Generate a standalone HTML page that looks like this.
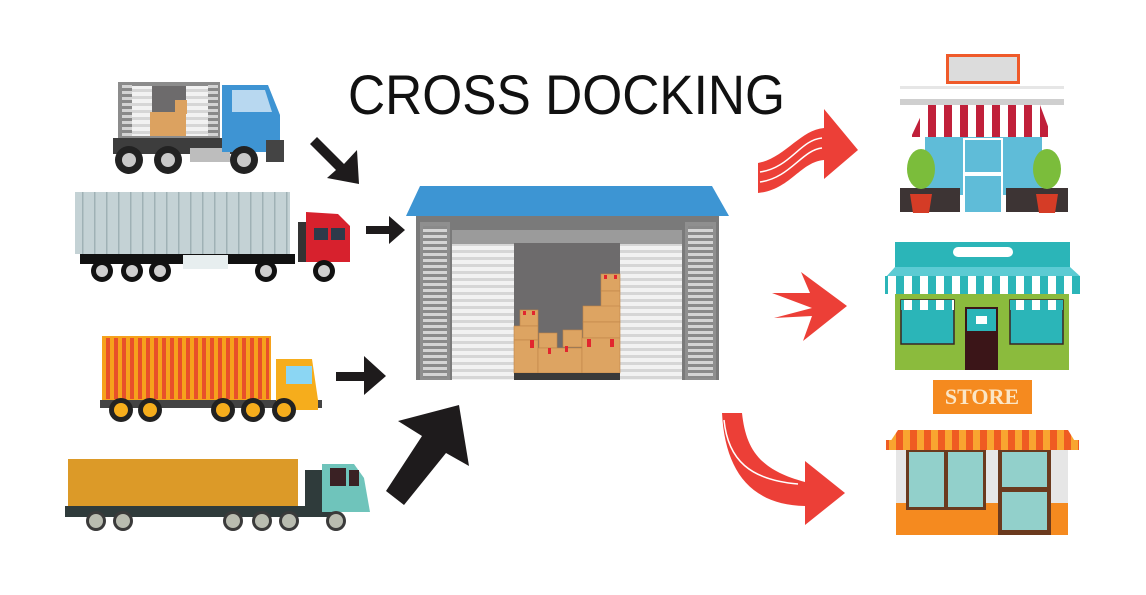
<!DOCTYPE html>
<html><head><meta charset="utf-8"><style>
html,body{margin:0;padding:0;background:#fff;}
svg{display:block;}
</style></head><body>
<svg width="1146" height="595" viewBox="0 0 1146 595" xmlns="http://www.w3.org/2000/svg">
<defs>
<pattern id="slat" width="10" height="6" patternUnits="userSpaceOnUse"><rect width="10" height="6" fill="#8a8a8a"/><rect y="1" width="10" height="3" fill="#d4d4d4"/></pattern>
<pattern id="wslat" width="10" height="7" patternUnits="userSpaceOnUse"><rect width="10" height="7" fill="#d6d6d6"/><rect y="1" width="10" height="4" fill="#f2f2f2"/></pattern>
<pattern id="cont" width="8" height="10" patternUnits="userSpaceOnUse"><rect width="8" height="10" fill="#f6a21c"/><rect x="2" width="4" height="10" fill="#e8502a"/></pattern>
<pattern id="trl" width="12" height="10" patternUnits="userSpaceOnUse"><rect width="12" height="10" fill="#c4d2d5"/><rect x="10" width="1.5" height="10" fill="#9fb1b5"/></pattern>
<pattern id="red" width="16" height="10" patternUnits="userSpaceOnUse"><rect width="16" height="10" fill="#fff"/><rect width="8" height="10" fill="#c0203a"/></pattern>
<pattern id="teal" width="16" height="10" patternUnits="userSpaceOnUse"><rect width="16" height="10" fill="#fff"/><rect width="8" height="10" fill="#2bb5b8"/></pattern>
<pattern id="orng" width="14" height="10" patternUnits="userSpaceOnUse"><rect width="14" height="10" fill="#f9a530"/><rect width="7" height="10" fill="#ef5c22"/></pattern>
</defs>

<!-- Title -->
<text x="348" y="114" font-family="Liberation Sans, sans-serif" font-size="56" fill="#111" textLength="437" lengthAdjust="spacingAndGlyphs" style="font-weight:300">CROSS DOCKING</text>

<!-- Truck 1 -->
<rect x="118" y="82" width="102" height="56" fill="#8c8c8c"/>
<rect x="122" y="84" width="10" height="52" fill="url(#slat)"/>
<rect x="208" y="84" width="10" height="52" fill="url(#slat)"/>
<rect x="132" y="86" width="20" height="50" fill="url(#wslat)"/>
<rect x="186" y="86" width="22" height="50" fill="url(#wslat)"/>
<rect x="152" y="86" width="34" height="50" fill="#6d6b6c"/>
<rect x="150" y="112" width="36" height="24" fill="#dca260"/>
<rect x="175" y="100" width="12" height="14" fill="#dca260"/>
<rect x="113" y="138" width="120" height="16" fill="#3d3d3d"/>
<rect x="190" y="148" width="40" height="14" fill="#bdbdbd"/>
<path d="M222 85 H268 L280 115 V152 H222 Z" fill="#3e94d3"/>
<path d="M232 90 H265 L272 112 H232 Z" fill="#b8d8f0"/>
<rect x="266" y="140" width="18" height="22" fill="#444"/>
<g fill="#222"><circle cx="129" cy="160" r="14"/><circle cx="168" cy="160" r="14"/><circle cx="244" cy="160" r="14"/></g>
<g fill="#c9c9c9"><circle cx="129" cy="160" r="7"/><circle cx="168" cy="160" r="7"/><circle cx="244" cy="160" r="7"/></g>

<!-- Arrow 1 -->
<path d="M317 137 L310 144 L336 170 L327 178 L359 184 L357 150 L344 164 Z" fill="#1e1b1c"/>

<!-- Truck 2 -->
<rect x="75" y="192" width="215" height="62" fill="url(#trl)"/>
<rect x="80" y="254" width="210" height="10" fill="#111"/>
<rect x="235" y="254" width="60" height="10" fill="#111"/>
<rect x="183" y="255" width="45" height="14" fill="#e7eeef"/>
<rect x="298" y="222" width="8" height="40" fill="#333"/>
<path d="M306 212 L338 214 L350 226 V262 H306 Z" fill="#d7212d"/>
<rect x="314" y="228" width="14" height="12" fill="#2d3a4a"/>
<rect x="331" y="228" width="14" height="12" fill="#2d3a4a"/>
<g fill="#111"><circle cx="102" cy="271" r="11"/><circle cx="132" cy="271" r="11"/><circle cx="160" cy="271" r="11"/><circle cx="266" cy="271" r="11"/><circle cx="324" cy="271" r="11"/></g>
<g fill="#cfcfcf"><circle cx="102" cy="271" r="6"/><circle cx="132" cy="271" r="6"/><circle cx="160" cy="271" r="6"/><circle cx="266" cy="271" r="6"/><circle cx="324" cy="271" r="6"/></g>

<!-- Arrow 2 -->
<path d="M366 226 H389 V216 L405 230 L389 244 V234 H366 Z" fill="#1e1b1c"/>

<!-- Warehouse -->
<polygon points="406,216 420,186 712,186 729,216" fill="#3d95d3"/>
<rect x="416" y="216" width="303" height="164" fill="#7a7a7a"/>
<rect x="420" y="222" width="30" height="158" fill="#8f8f8f"/>
<rect x="423" y="226" width="24" height="152" fill="url(#slat)"/>
<rect x="685" y="222" width="31" height="158" fill="#8f8f8f"/>
<rect x="688" y="226" width="25" height="152" fill="url(#slat)"/>
<rect x="452" y="230" width="230" height="14" fill="#9b9b9b"/>
<rect x="452" y="244" width="62" height="136" fill="url(#wslat)"/>
<rect x="620" y="244" width="62" height="136" fill="url(#wslat)"/>
<rect x="514" y="243" width="106" height="130" fill="#6d6b6c"/>
<g fill="#dda462" stroke="#c08547" stroke-width="0.6">
<rect x="601" y="274" width="19" height="17"/><rect x="601" y="291" width="19" height="16"/>
<rect x="583" y="306" width="37" height="16"/><rect x="583" y="322" width="37" height="16"/>
<rect x="520" y="310" width="18" height="16"/><rect x="514" y="326" width="24" height="14"/>
<rect x="539" y="333" width="18" height="15"/><rect x="563" y="330" width="19" height="17"/>
<rect x="514" y="340" width="24" height="33"/><rect x="538" y="348" width="44" height="25"/><rect x="582" y="338" width="38" height="35"/>
</g>
<g fill="#e2262e">
<rect x="530" y="340" width="4" height="8"/><rect x="548" y="348" width="3" height="6"/><rect x="565" y="346" width="3" height="6"/><rect x="587" y="339" width="4" height="8"/><rect x="610" y="339" width="4" height="8"/>
<rect x="604" y="275" width="3" height="4"/><rect x="614" y="275" width="3" height="4"/><rect x="523" y="311" width="3" height="4"/><rect x="532" y="311" width="3" height="4"/>
</g>
<rect x="514" y="373" width="106" height="7" fill="#3a3a3a"/>

<!-- Truck 3 -->
<rect x="103" y="337" width="167" height="63" fill="url(#cont)"/>
<rect x="103" y="337" width="167" height="63" fill="none" stroke="#f6a21c" stroke-width="2"/>
<rect x="100" y="400" width="222" height="8" fill="#444"/>
<path d="M276 359 H312 L318 400 V410 H276 Z" fill="#f6ad1c"/>
<rect x="286" y="366" width="26" height="18" fill="#8bd6f3"/>
<g fill="#222"><circle cx="121" cy="410" r="12"/><circle cx="150" cy="410" r="12"/><circle cx="223" cy="410" r="12"/><circle cx="253" cy="410" r="12"/><circle cx="284" cy="410" r="12"/></g>
<g fill="#f6ad1c"><circle cx="121" cy="410" r="7"/><circle cx="150" cy="410" r="7"/><circle cx="223" cy="410" r="7"/><circle cx="253" cy="410" r="7"/><circle cx="284" cy="410" r="7"/></g>

<!-- Arrow 3 -->
<path d="M336 372 H364 V356 L386 376 L364 395 V381 H336 Z" fill="#1e1b1c"/>

<!-- Truck 4 -->
<rect x="68" y="459" width="230" height="49" fill="#dc9a28"/>
<rect x="65" y="506" width="272" height="11" fill="#2f3b3b"/>
<rect x="305" y="470" width="20" height="47" fill="#2f3b3b"/>
<path d="M322 464 H354 L364 478 L370 512 H322 Z" fill="#6fc4bb"/>
<rect x="330" y="468" width="16" height="18" fill="#3a2124"/>
<rect x="349" y="470" width="10" height="16" fill="#3a2124"/>
<g fill="#3a3a3a"><circle cx="96" cy="521" r="10"/><circle cx="123" cy="521" r="10"/><circle cx="233" cy="521" r="10"/><circle cx="262" cy="521" r="10"/><circle cx="289" cy="521" r="10"/><circle cx="336" cy="521" r="10"/></g>
<g fill="#b9bcb0"><circle cx="96" cy="521" r="7"/><circle cx="123" cy="521" r="7"/><circle cx="233" cy="521" r="7"/><circle cx="262" cy="521" r="7"/><circle cx="289" cy="521" r="7"/><circle cx="336" cy="521" r="7"/></g>

<!-- Arrow 4 -->
<path d="M386 491 L404 505 L446 453 L469 466 L459 405 L398 421 L422 436 Z" fill="#1e1b1c"/>

<!-- Red arrows -->
<path d="M758 163 C785 158 800 130 824 128 L824 109 L858 150 L824 179 L824 160 C800 162 790 190 758 193 Z" fill="#ec3f37"/>
<path d="M760 172 C790 168 800 140 822 138" stroke="#fff" stroke-width="1.5" fill="none"/>
<path d="M760 182 C790 178 802 150 822 148" stroke="#fff" stroke-width="1.5" fill="none"/>
<path d="M772 293 L810 293 L801 272 L847 306 L803 341 L812 316 L774 318 L812 308 Z" fill="#ec3f37"/>
<path d="M722 413 H742 C746 450 760 470 805 482 L805 461 L845 493 L805 525 L805 506 C750 505 725 470 722 413 Z" fill="#ec3f37"/>
<path d="M724 420 C728 460 750 480 798 484" stroke="#fff" stroke-width="1.5" fill="none"/>

<!-- Shop 1 -->
<rect x="946" y="54" width="74" height="30" fill="#ef5a2a"/>
<rect x="949" y="57" width="68" height="24" fill="#dcdcdc"/>
<rect x="900" y="86" width="164" height="3" fill="#e6e6e6"/>
<rect x="900" y="99" width="164" height="6" fill="#cfcfcf"/>
<path d="M926 105 H1040 L1052 137 H911 Z" fill="url(#red)"/>
<rect x="925" y="137" width="117" height="58" fill="#5fbcd8"/>
<rect x="963" y="138" width="40" height="74" fill="#fff"/>
<rect x="965" y="140" width="36" height="32" fill="#5fbcd8"/>
<rect x="965" y="176" width="36" height="36" fill="#5fbcd8"/>
<rect x="900" y="188" width="60" height="24" fill="#3d3434"/>
<rect x="1006" y="188" width="62" height="24" fill="#3d3434"/>
<ellipse cx="921" cy="169" rx="14" ry="20" fill="#7bbd3b"/>
<ellipse cx="1047" cy="169" rx="14" ry="20" fill="#7bbd3b"/>
<path d="M910 194 H932 L929 213 H913 Z" fill="#d53c26"/>
<path d="M1036 194 H1058 L1055 213 H1039 Z" fill="#d53c26"/>

<!-- Shop 2 -->
<rect x="895" y="242" width="175" height="25" fill="#2bb5b8"/>
<rect x="953" y="247" width="60" height="10" rx="5" fill="#fff"/>
<path d="M895 267 H1070 L1082 278 V293 H885 V278 Z" fill="#5ccbd3"/>
<rect x="885" y="276" width="197" height="18" fill="url(#teal)"/>
<rect x="895" y="294" width="174" height="76" fill="#8bbb3d"/>
<rect x="901" y="300" width="53" height="44" fill="#2bb5b8" stroke="#3a2424" stroke-width="1.5"/>
<rect x="1010" y="300" width="53" height="44" fill="#2bb5b8" stroke="#3a2424" stroke-width="1.5"/>
<rect x="901" y="300" width="53" height="10" fill="url(#teal)"/>
<rect x="1010" y="300" width="53" height="10" fill="url(#teal)"/>
<rect x="965" y="307" width="33" height="63" fill="#3b1518"/>
<rect x="967" y="309" width="29" height="22" fill="#2bb5b8"/>
<rect x="976" y="316" width="11" height="8" fill="#fff"/>

<!-- STORE -->
<rect x="933" y="380" width="99" height="34" fill="#f58a1f"/>
<text x="982" y="404" font-family="Liberation Serif, serif" font-size="22" fill="#fbe6c6" text-anchor="middle" font-weight="bold">STORE</text>

<!-- Shop 3 -->
<path d="M898 430 H1068 L1079 448 H886 Z" fill="url(#orng)"/>
<rect x="886" y="440" width="193" height="10" fill="url(#orng)"/>
<rect x="896" y="450" width="172" height="85" fill="#e6e6e6"/>
<rect x="896" y="503" width="172" height="32" fill="#f58a1f"/>
<rect x="906" y="450" width="80" height="60" fill="#6b3a1e"/>
<rect x="909" y="452" width="35" height="55" fill="#92d0cb"/>
<rect x="948" y="452" width="35" height="55" fill="#92d0cb"/>
<rect x="998" y="450" width="53" height="85" fill="#6b3a1e"/>
<rect x="1002" y="452" width="45" height="35" fill="#92d0cb"/>
<rect x="1002" y="492" width="45" height="38" fill="#92d0cb"/>
</svg>
</body></html>
